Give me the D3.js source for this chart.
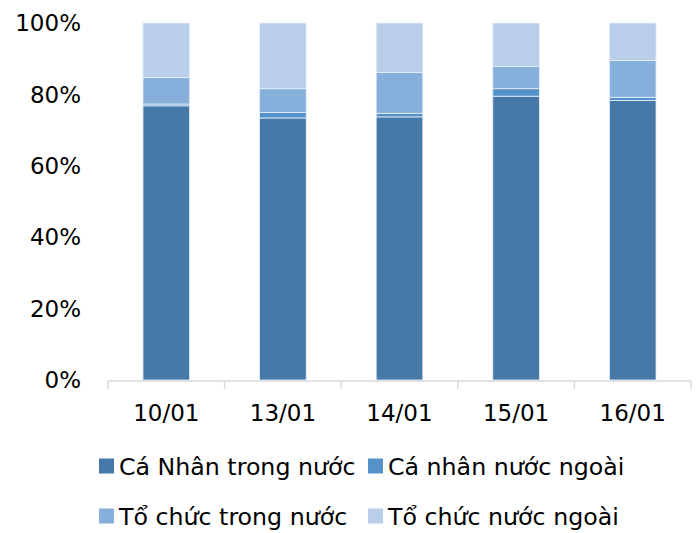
<!DOCTYPE html>
<html>
<head>
<meta charset="utf-8">
<script src="https://cdn.jsdelivr.net/npm/d3@7"></script>
<style>
  body { margin: 0; background: #fff; }
  text { font-family: "DejaVu Sans", sans-serif; fill: #000; }
</style>
</head>
<body>
<svg id="chart" width="696" height="533"></svg>
<script>
// ngay giao dich
var dates = ["10/01", "13/01", "14/01", "15/01", "16/01"];
var seriesNames = ["Cá Nhân trong nước", "Cá nhân nước ngoài", "Tổ chức trong nước", "Tổ chức nước ngoài"];
var caNhanTrongNuoc = [76.8, 73.4, 73.7, 79.5, 78.3];
var caNhanNuocNgoai = [0.5, 1.5, 1.0, 2.1, 0.9];
var toChucTrongNuoc = [7.4, 6.7, 11.4, 6.2, 10.3];
var toChucNuocNgoai = [15.3, 18.4, 13.9, 12.2, 10.5];
var yTicks = [0, 20, 40, 60, 80, 100];
var colors = ["#4779A8", "#5592C9", "#86AFDC", "#B9CEE9"];

var svg = d3.select("#chart");
var margin = {left: 108, right: 5, top: 23, bottom: 153};
var width = 696 - margin.left - margin.right;
var height = 533 - margin.top - margin.bottom;

var rows = dates.map(function(d, i) {
    return {
        date: d,
        s0: caNhanTrongNuoc[i],
        s1: caNhanNuocNgoai[i],
        s2: toChucTrongNuoc[i],
        s3: toChucNuocNgoai[i]
    };
});
var stack = d3.stack().keys(["s0", "s1", "s2", "s3"]);
var layers = stack(rows);

var x = d3.scaleBand().domain(dates).range([0, width]).paddingInner(0.6).paddingOuter(0.3);
var y = d3.scaleLinear().domain([0, 100]).range([height, 0]);

var g = svg.append("g").attr("transform", "translate(" + margin.left + "," + margin.top + ")");

// y labels
g.selectAll(".ylab")
    .data(yTicks)
    .enter().append("text")
    .attr("class", "ylab")
    .attr("x", -27)
    .attr("y", function(d) { return y(d); })
    .attr("dy", "0.36em")
    .attr("text-anchor", "end")
    .style("font-size", "23px")
    .text(function(d) { return d + "%"; });

// bars
g.selectAll(".layer")
    .data(layers)
    .enter().append("g")
    .attr("class", "layer")
    .attr("fill", function(d, i) { return colors[i]; })
    .selectAll("rect")
    .data(function(d) { return d; })
    .enter().append("rect")
    .attr("x", function(d) { return x(d.data.date); })
    .attr("width", x.bandwidth())
    .attr("y", function(d) { return y(d[1]); })
    .attr("height", function(d) { return y(d[0]) - y(d[1]); })
    .attr("stroke", "#e8f0fa")
    .attr("stroke-width", 0.8);

// x axis
var bounds = d3.range(dates.length + 1).map(function(i) { return i * width / dates.length; });
g.append("line")
    .attr("x1", 0).attr("x2", width)
    .attr("y1", height + 1).attr("y2", height + 1)
    .attr("stroke", "#d9d9d9").attr("stroke-width", 1.5);
g.selectAll(".xtick")
    .data(bounds)
    .enter().append("line")
    .attr("x1", function(d) { return d; })
    .attr("x2", function(d) { return d; })
    .attr("y1", height + 1).attr("y2", height + 9)
    .attr("stroke", "#d9d9d9").attr("stroke-width", 1.5);
g.selectAll(".xlab")
    .data(dates)
    .enter().append("text")
    .attr("x", function(d) { return x(d) + x.bandwidth() / 2; })
    .attr("y", height + 33)
    .attr("dy", "0.36em")
    .attr("text-anchor", "middle")
    .style("font-size", "23px")
    .text(function(d) { return d; });

// legend
var legendPos = [[99, 466], [368, 466], [99, 516], [368, 516]];
var legend = svg.selectAll(".legend")
    .data(seriesNames)
    .enter().append("g")
    .attr("class", "legend")
    .attr("transform", function(d, i) { return "translate(" + legendPos[i][0] + "," + legendPos[i][1] + ")"; });
legend.append("rect")
    .attr("x", 0).attr("y", -7.5)
    .attr("width", 15).attr("height", 15)
    .attr("fill", function(d, i) { return colors[i]; });
legend.append("text")
    .attr("x", 20)
    .attr("y", 0)
    .attr("dy", "0.36em")
    .style("font-size", "23.7px")
    .text(function(d) { return d; });
</script>
</body>
</html>
